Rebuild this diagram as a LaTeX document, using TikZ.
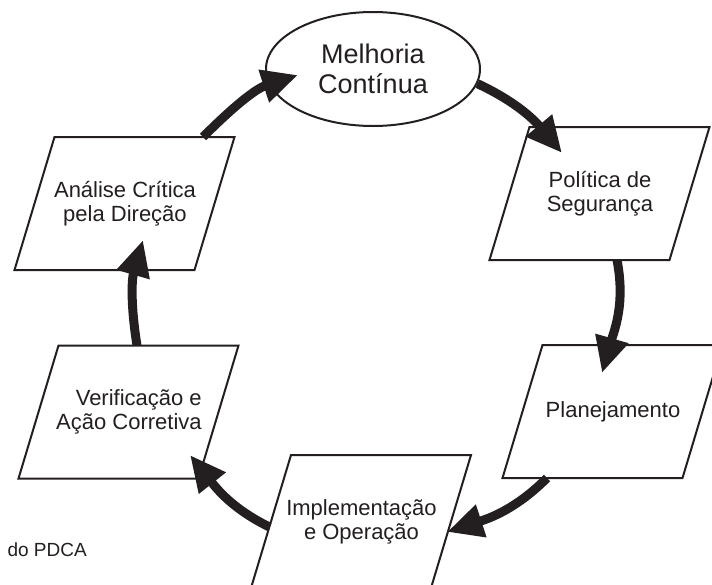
\documentclass[tikz,border=0pt]{standalone}
\usepackage{fontspec}
\setmainfont{Liberation Sans}
\usetikzlibrary{arrows.meta,calc,shapes.geometric}
\definecolor{ink}{HTML}{231F20}
\begin{document}
\begin{tikzpicture}[x=1pt,y=1pt,
  para/.pic={\draw[draw=ink, line width=2pt, fill=white, line join=miter]
    (-70.5,66.5) -- (109.5,66.5) -- (69.5,-66.5) -- (-110.5,-66.5) -- cycle;},
  box/.style={inner sep=0pt, align=center, text=ink,
    font=\fontsize{22}{24}\selectfont},
  cyc/.style={draw=ink, line width=2pt, fill=white, ellipse, minimum width=214pt,
    minimum height=114pt, inner sep=0pt, align=center, text=ink,
    font=\fontsize{27}{30}\selectfont},
  arr/.style={draw=ink, line width=9pt, -{Triangle[length=36pt,width=32pt]}},
]
\useasboundingbox (0,0) rectangle (712,-584);
\node[cyc] (ell) at (373,-69) {Melhoria\\Contínua};
\pic at (600,-193.5) {para};
\node[box] (pol) at (600,-193.5) {Política de\\Segurança};
\pic at (613,-411.5) {para};
\node[box] (plan) at (613,-411.5) {Planejamento};
\pic at (361.5,-521.5) {para};
\node[box] (impl) at (361.5,-521.5) {Implementação\\e Operação};
\pic at (129,-412) {para};
\node[box, align=right] (ver) at (129,-412) {Verificação e\\Ação Corretiva};
\pic at (125,-203.5) {para};
\node[box] (ana) at (125,-203.5) {Análise Crítica\\pela Direção};
\node[anchor=base west, text=ink, font=\fontsize{19}{22}\selectfont] (cap) at (4,-556) {do PDCA};

\draw[arr] ($(ana.center)+(78,66.5)$) to[out=45,in=198] ($(ell.center)+(-75,-6)$);
\draw[arr] (ell.-8.5) to[out=-25,in=130] ($(pol.center)+(-38,40.5)$);
\draw[arr] ($(pol.center)+(17,-66.5)$) to[out=-79,in=74] ($(plan.center)+(-11,38.5)$);
\draw[arr] ($(plan.center)+(-66,-66.5)$) to[out=-135,in=18] ($(impl.center)+(85.5,-10.5)$);
\draw[arr] ($(impl.center)+(-92,-5.5)$) to[out=-206,in=-51.5] ($(ver.center)+(61,-43)$);
\draw[arr] ($(ver.center)+(8,66.5)$) to[out=99,in=254] ($(ana.center)+(18,-36.5)$);
\end{tikzpicture}
\end{document}
